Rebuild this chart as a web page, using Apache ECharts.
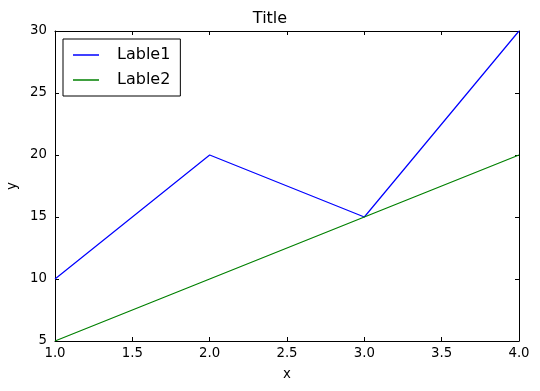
<!DOCTYPE html>
<html><head><meta charset="utf-8">
<script src="https://cdn.jsdelivr.net/npm/echarts@6/dist/echarts.min.js"></script>
<style>html,body{margin:0;padding:0;background:#fff}#c{width:540px;height:391px}</style>
</head><body><div id="c"></div>
<script>
var xValues = [1, 2, 3, 4];
var lable1 = [10, 20, 15, 30];
var lable2 = [5, 10, 15, 20];
var seriesNames = ['Lable1', 'Lable2'];
var titleText = 'Title';
var xName = 'x', yName = 'y';

var font = 'DejaVu Sans';
var chart = echarts.init(document.getElementById('c'));
function pairs(ys){ return xValues.map(function(x,i){ return [x, ys[i]]; }); }
var tickCommon = {show:true, inside:true, length:4, lineStyle:{color:'#000', width:1}};
var lineCommon = {show:true, onZero:false, lineStyle:{color:'#000', width:1}};
chart.setOption({
  animation:false,
  backgroundColor:'#fff',
  title:{text:titleText, left:'center', top:6, textStyle:{fontFamily:font, fontSize:16, fontWeight:'normal', color:'#000'}},
  grid:{left:55, right:21, top:31, bottom:50, containLabel:false, outerBoundsMode:'none'},
  legend:{
    orient:'vertical', left:63, top:39,
    backgroundColor:'#fff', borderColor:'#000', borderWidth:1, borderRadius:0,
    padding:[8,10,8,10], itemGap:9, itemWidth:26, itemHeight:1.5, icon:'rect',
    textStyle:{fontFamily:font, fontSize:16, color:'#000', padding:[0,0,0,13]},
    data:seriesNames
  },
  xAxis:[
    {type:'value', min:1, max:4, interval:0.5, position:'bottom', name:xName, nameLocation:'middle', nameGap:27,
     nameTextStyle:{fontFamily:font, fontSize:13.3, color:'#000'},
     axisLine:lineCommon, axisTick:tickCommon, splitLine:{show:false},
     axisLabel:{fontFamily:font, fontSize:13.3, color:'#000', margin:6, formatter:function(v){return v.toFixed(1);}}},
    {type:'value', min:1, max:4, interval:0.5, position:'top',
     axisLine:lineCommon, axisTick:tickCommon, splitLine:{show:false}, axisLabel:{show:false}}
  ],
  yAxis:[
    {type:'value', min:5, max:30, interval:5, position:'left', name:yName, nameLocation:'middle', nameGap:34, nameRotate:90,
     nameTextStyle:{fontFamily:font, fontSize:13.3, color:'#000'},
     axisLine:lineCommon, axisTick:tickCommon, splitLine:{show:false},
     axisLabel:{fontFamily:font, fontSize:13.3, color:'#000', margin:8}},
    {type:'value', min:5, max:30, interval:5, position:'right',
     axisLine:lineCommon, axisTick:tickCommon, splitLine:{show:false}, axisLabel:{show:false}}
  ],
  series:[
    {name:seriesNames[0], type:'line', data:pairs(lable1), showSymbol:false, symbol:'none', color:'#0000ff', lineStyle:{color:'#0000ff', width:1.2}},
    {name:seriesNames[1], type:'line', data:pairs(lable2), showSymbol:false, symbol:'none', color:'#008000', lineStyle:{color:'#008000', width:1.2}}
  ]
});
</script></body></html>
